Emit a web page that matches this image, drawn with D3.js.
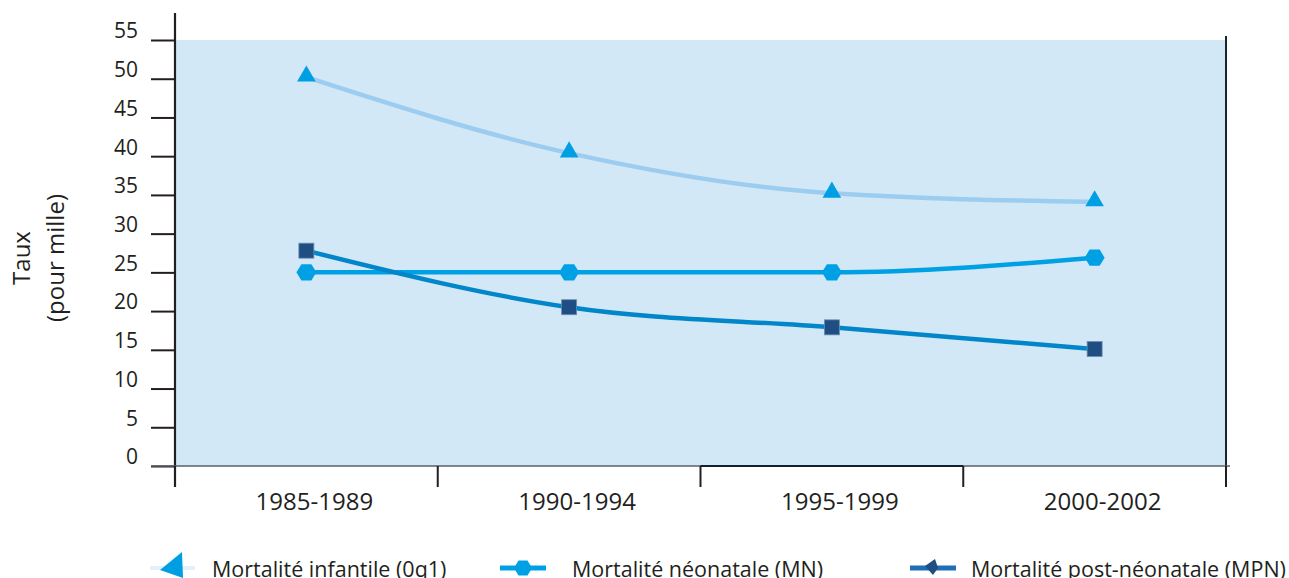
<!DOCTYPE html>
<html><head><meta charset="utf-8">
<script src="https://cdn.jsdelivr.net/npm/d3@7"></script>
<style>body{margin:0;background:#fff}svg{display:block}text{font-family:"Open Sans","Noto Sans",sans-serif;fill:#231f20}</style>
</head><body><svg id="c" width="1289" height="578"></svg>
<script>
const categories = ["1985-1989","1990-1994","1995-1999","2000-2002"];
const infantile = [50.2, 40.4, 35.2, 34.1];
const neonatale = [25.0, 25.0, 25.0, 26.9];
const postNeonatale = [27.8, 20.5, 17.9, 15.1];
const yTicks = [0,5,10,15,20,25,30,35,40,45,50,55];
const seriesNames = ["Mortalité infantile (0q1)","Mortalité néonatale (MN)","Mortalité post-néonatale (MPN)"];

const svg = d3.select("#c");
const L=175, R=1226, T=40, B=466;
const x = d3.scaleBand().domain(categories).range([L,R]);
const y = d3.scaleLinear().domain([0,55]).range([B,T]);
const cx = c => x(c)+x.bandwidth()/2;

svg.append("rect").attr("x",L).attr("y",T).attr("width",R-L).attr("height",B-T).attr("fill","#d3e8f7");

// y axis
const ya = svg.append("g").attr("transform",`translate(${L},0)`)
  .call(d3.axisLeft(y).tickValues(yTicks).tickSize(24).tickPadding(13));
ya.select(".domain").remove();
ya.selectAll(".tick line").attr("stroke","#231f20").attr("stroke-width",2);
ya.selectAll(".tick text").attr("font-size",21).attr("dy","-0.1em").style("font-family","'Open Sans',sans-serif").attr("fill","#231f20");
svg.append("line").attr("x1",L).attr("x2",L).attr("y1",13).attr("y2",487).attr("stroke","#231f20").attr("stroke-width",2.2);
svg.append("line").attr("x1",R).attr("x2",R).attr("y1",T-4).attr("y2",487).attr("stroke","#1a2530").attr("stroke-width",2);

// x axis
svg.append("line").attr("x1",151).attr("x2",1230).attr("y1",B).attr("y2",B).attr("stroke","#5a6068").attr("stroke-width",1.5);
svg.append("line").attr("x1",x(categories[2])).attr("x2",x(categories[3])).attr("y1",B).attr("y2",B).attr("stroke","#10202c").attr("stroke-width",2);
const bounds = categories.map(c=>x(c)).concat([R]);
svg.selectAll(".xt").data(bounds).join("line").attr("x1",d=>d).attr("x2",d=>d).attr("y1",B).attr("y2",487).attr("stroke","#231f20").attr("stroke-width",2);
svg.selectAll(".xl").data(categories).join("text").attr("x",d=>cx(d)+8).attr("y",510).attr("text-anchor","middle").attr("font-size",24).text(d=>d);

// y label
const yl = svg.append("text").attr("transform","translate(0,258) rotate(-90)").attr("text-anchor","middle").attr("font-size",24);
yl.append("tspan").attr("x",0).attr("y",30).text("Taux");
yl.append("tspan").attr("x",0).attr("y",64).text("(pour mille)");

const line = d3.line().x((d,i)=>cx(categories[i])).y(d=>y(d)).curve(d3.curveMonotoneX);
svg.append("path").attr("d",line(infantile)).attr("fill","none").attr("stroke","#9ccdf0").attr("stroke-width",4.5);
svg.append("path").attr("d",line(neonatale)).attr("fill","none").attr("stroke","#00a1e4").attr("stroke-width",4.5);
svg.append("path").attr("d",line(postNeonatale)).attr("fill","none").attr("stroke","#0086c9").attr("stroke-width",4.5);

const tri = d3.symbol().type(d3.symbolTriangle).size(150);
const hex = s => { const r=s; return d3.line()(d3.range(6).map(k=>[r*Math.cos(k*Math.PI/3), r*Math.sin(k*Math.PI/3)*0.95])) + "Z"; };
svg.selectAll(".tri").data(infantile).join("path").attr("d",tri).attr("fill","#009fe3")
  .attr("transform",(d,i)=>`translate(${cx(categories[i])},${y(d)-1})`);
svg.selectAll(".hex").data(neonatale).join("path").attr("d",hex(10)).attr("fill","#00a1e4")
  .attr("transform",(d,i)=>`translate(${cx(categories[i])},${y(d)})`);
svg.selectAll(".sq").data(postNeonatale).join("rect").attr("width",15).attr("height",15).attr("fill","#1f4e82").attr("stroke","#6b8fb4").attr("stroke-width",0.8)
  .attr("x",(d,i)=>cx(categories[i])-7.5).attr("y",d=>y(d)-7.5);

// legend
const ly = 568;
const lg = svg.append("g");
lg.append("line").attr("x1",150).attr("x2",195).attr("y1",ly).attr("y2",ly).attr("stroke","#e2f1fb").attr("stroke-width",4);
lg.append("path").attr("d","M182,552 L183,578 L160,570 Z").attr("fill","#009fe3");
lg.append("text").attr("x",212).attr("y",ly+9).attr("font-size",21.5).text(seriesNames[0]);
lg.append("line").attr("x1",500).attr("x2",546).attr("y1",ly).attr("y2",ly).attr("stroke","#00a1e4").attr("stroke-width",5);
lg.append("path").attr("d",hex(9)).attr("fill","#00a1e4").attr("transform",`translate(523,${ly})`);
lg.append("text").attr("x",572).attr("y",ly+9).attr("font-size",21.5).text(seriesNames[1]);
lg.append("line").attr("x1",910).attr("x2",956).attr("y1",ly).attr("y2",ly).attr("stroke","#1f6fb7").attr("stroke-width",5);
lg.append("path").attr("d","M925,566 L935,559 L938,568 L933,575 Z").attr("fill","#1f4e82");
lg.append("text").attr("x",971).attr("y",ly+9).attr("font-size",21.5).text(seriesNames[2]);
</script></body></html>
